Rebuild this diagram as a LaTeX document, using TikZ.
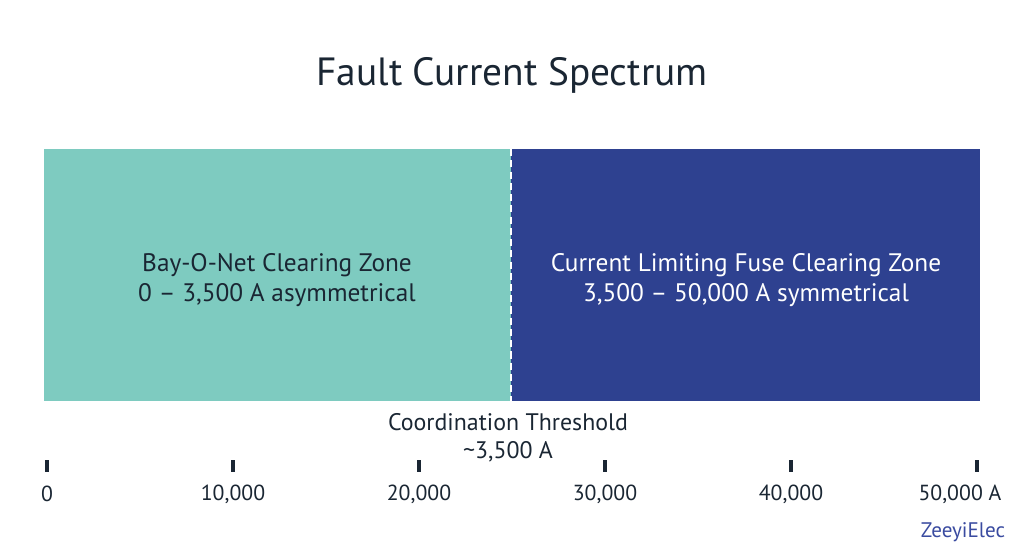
\documentclass[tikz,border=0pt]{standalone}
\usepackage{fontspec}
\setmainfont{PT Sans}
\definecolor{bayteal}{HTML}{7ECBC0}
\definecolor{fuseblue}{HTML}{2E4190}
\definecolor{inktext}{HTML}{1A2633}
\definecolor{brandblue}{HTML}{3A4BA0}
\tikzset{
  zonetext/.style={align=center,font=\fontsize{18}{21}\selectfont},
  ticklabel/.style={font=\fontsize{15.5}{18}\selectfont,text=inktext},
  tickmark/.style={line width=2.2pt,inktext},
}
\begin{document}
\begin{tikzpicture}[x=0.025cm,y=-0.025cm]
  \useasboundingbox (0,0) rectangle (1024,559);

  % Titel
  \node[text=inktext,font=\fontsize{28}{32}\selectfont] (title) at (512,75) {Fault Current Spectrum};

  % Zonen
  \fill[bayteal] (44,149) rectangle (511,401);
  \fill[fuseblue] (511,149) rectangle (980,401);
  \draw[white,line width=1.5pt,dash pattern=on 5pt off 3pt] (511,149) -- (511,401);

  \node[zonetext,text=inktext] (bayzone) at (277,280) {Bay-O-Net Clearing Zone\\0 -- 3,500 A asymmetrical};
  \node[zonetext,text=white] (fusezone) at (746,280) {Current Limiting Fuse Clearing Zone\\3,500 -- 50,000 A symmetrical};

  % Schwelle
  \node[zonetext,text=inktext,font=\fontsize{17}{20}\selectfont] (threshold) at (508,438) {Coordination Threshold\\\textasciitilde3,500 A};

  % Achse
  \foreach \i/\lab in {0/0,1/{10,000},2/{20,000},3/{30,000},4/{40,000}} {
    \draw[tickmark] (47+186*\i,460) -- (47+186*\i,472);
    \node[ticklabel] (tick\i) at (47+186*\i,494) {\lab};
  }
  \draw[tickmark] (977,460) -- (977,472);
  \node[ticklabel] (tick5) at (960,494) {50,000 A};

  % Marke
  \node[anchor=east,text=brandblue,font=\fontsize{15}{18}\selectfont] (brand) at (1010,532) {ZeeyiElec};
\end{tikzpicture}
\end{document}
